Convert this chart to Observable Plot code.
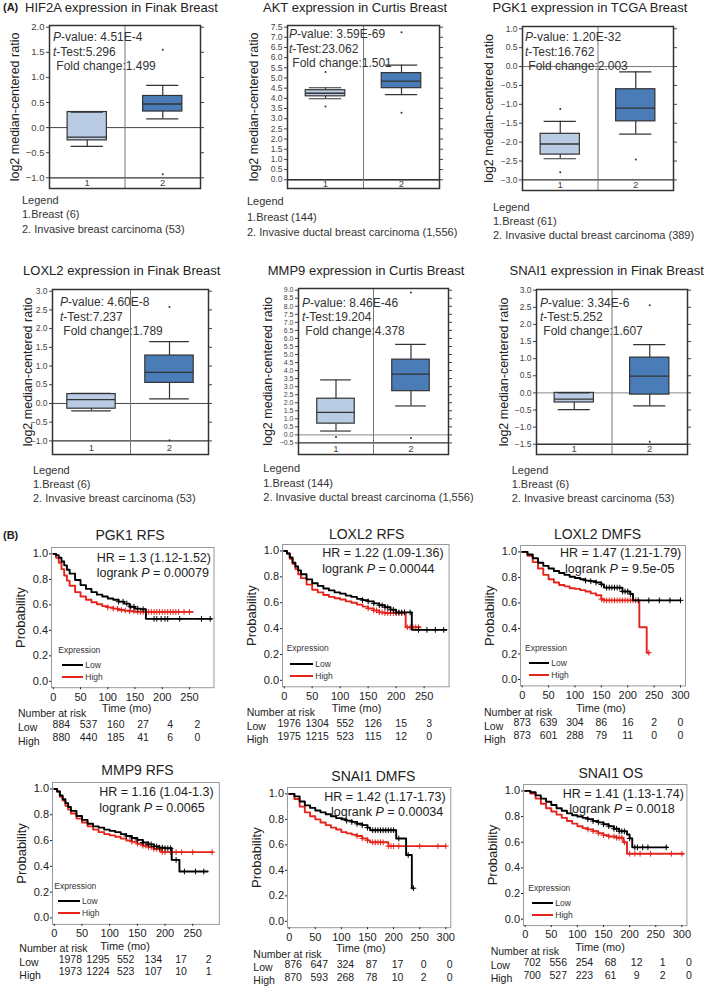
<!DOCTYPE html>
<html><head><meta charset="utf-8">
<script src="https://cdn.jsdelivr.net/npm/d3@7"></script>
<script src="https://cdn.jsdelivr.net/npm/@observablehq/plot@0.6"></script>
<style>
body{margin:0;background:#fff;}
#root{position:relative;width:709px;height:988px;overflow:hidden;font-family:"Liberation Sans",Arial,sans-serif;color:#222;}
.t{position:absolute;white-space:nowrap;line-height:1;}
.p{position:absolute;}
svg{overflow:visible}
</style></head><body><div id="root"></div>
<script>
// ---------------- DATA: Oncomine box plots ----------------
const boxGenes = ["HIF2A","AKT","PGK1","LOXL2","MMP9","SNAI1"];
const boxStudies = ["Finak Breast","Curtis Breast","TCGA Breast","Finak Breast","Curtis Breast","Finak Breast"];
// [lower whisker, q1, median, q3, upper whisker]
const normalStats = [
  [-0.375,-0.255,-0.19,0.31,0.31],
  [3.98,4.1,4.25,4.4,4.52],
  [-2.44,-2.33,-2.05,-1.78,-1.45],
  [-0.2,-0.14,0.1,0.25,0.27],
  [0.24,0.7,1.4,2.25,3.42],
  [-0.49,-0.28,-0.18,0.0,0.0]
];
const tumorStats = [
  [0.175,0.32,0.47,0.63,0.84],
  [4.18,4.5,4.85,5.24,5.63],
  [-1.79,-1.45,-1.1,-0.6,-0.14],
  [0.12,0.55,0.83,1.28,1.65],
  [1.8,2.72,3.78,4.68,5.63],
  [-0.38,-0.05,0.49,1.03,1.41]
];
const normalOutliers = [[],[5.29,3.6],[-1.12,-2.8],[],[-0.13],[]];
const tumorOutliers = [[1.55,-0.93],[7.25,3.29],[-2.46],[2.58,-0.98],[8.85,-0.19],[2.56,-1.43]];
const pValues = ["4.51E-4","3.59E-69","1.20E-32","4.60E-8","8.46E-46","3.34E-6"];
const tTests = ["5.296","23.062","16.762","7.237","19.204","5.252"];
const foldChanges = ["1.499","1.501","2.003","1.789","4.378","1.607"];
const normalLabels = ["1.Breast (6)","1.Breast (144)","1.Breast (61)","1.Breast (6)","1.Breast (144)","1.Breast (6)"];
const tumorLabels = ["2. Invasive breast carcinoma (53)","2. Invasive ductal breast carcinoma (1,556)","2. Invasive ductal breast carcinoma (389)","2. Invasive breast carcinoma (53)","2. Invasive ductal breast carcinoma (1,556)","2. Invasive breast carcinoma (53)"];
const boxTickMin = [-1,0,-3,-1,-0.5,-1.5];
const boxTickMax = [2,7.5,1,3,9,3];
const boxCategories = ["1","2"];

// ---------------- DATA: Kaplan-Meier ----------------
const kmTitles = ["PGK1 RFS","LOXL2 RFS","LOXL2 DMFS","MMP9 RFS","SNAI1 DMFS","SNAI1 OS"];
const kmHR = ["HR = 1.3 (1.12-1.52)","HR = 1.22 (1.09-1.36)","HR = 1.47 (1.21-1.79)","HR = 1.16 (1.04-1.3)","HR = 1.42 (1.17-1.73)","HR = 1.41 (1.13-1.74)"];
const kmP = ["0.00079","0.00044","9.5e-05","0.0065","0.00034","0.0018"];
const kmRiskLow = [[884,537,160,27,4,2],[1976,1304,552,126,15,3],[873,639,304,86,16,2,0],[1978,1295,552,134,17,2],[876,647,324,87,17,0,0],[702,556,254,68,12,1,0]];
const kmRiskHigh = [[880,440,185,41,6,0],[1975,1215,523,115,12,0],[873,601,288,79,11,0,0],[1973,1224,523,107,10,1],[870,593,268,78,10,2,0],[700,527,223,61,9,2,0]];
const kmRiskStep = 50;

const pgk1RfsLow = [[0,1],[5,0.99],[10,0.97],[15,0.94],[20,0.91],[25,0.875],[30,0.845],[40,0.795],[50,0.755],[60,0.725],[70,0.70],[80,0.68],[90,0.665],[100,0.65],[110,0.64],[120,0.625],[130,0.61],[140,0.585],[150,0.57],[160,0.565],[170,0.49],[290,0.49]];
const pgk1RfsHigh = [[0,1],[5,0.97],[10,0.93],[15,0.88],[20,0.83],[25,0.79],[30,0.75],[40,0.70],[50,0.665],[60,0.64],[70,0.62],[80,0.605],[90,0.59],[100,0.58],[110,0.57],[120,0.56],[130,0.555],[140,0.55],[150,0.545],[256,0.545]];
const loxl2RfsLow = [[0,1],[5,0.98],[10,0.95],[15,0.91],[20,0.88],[25,0.85],[30,0.82],[40,0.78],[50,0.75],[60,0.73],[70,0.71],[80,0.695],[90,0.68],[100,0.67],[110,0.655],[120,0.645],[130,0.63],[140,0.62],[150,0.61],[160,0.595],[170,0.58],[180,0.565],[190,0.545],[200,0.525],[228,0.39],[290,0.39]];
const loxl2RfsHigh = [[0,1],[5,0.98],[10,0.94],[15,0.9],[20,0.86],[25,0.82],[30,0.79],[40,0.74],[50,0.70],[60,0.68],[70,0.66],[80,0.645],[90,0.635],[100,0.625],[110,0.61],[120,0.60],[130,0.585],[140,0.57],[150,0.555],[160,0.54],[170,0.525],[180,0.52],[217,0.41],[243,0.41]];
const loxl2DmfsLow = [[0,1],[10,0.98],[20,0.95],[30,0.915],[40,0.89],[50,0.87],[60,0.85],[70,0.835],[80,0.82],[90,0.805],[100,0.795],[110,0.785],[120,0.775],[130,0.77],[140,0.76],[150,0.745],[155,0.72],[190,0.69],[205,0.67],[210,0.62],[300,0.62]];
const loxl2DmfsHigh = [[0,1],[10,0.97],[20,0.92],[30,0.87],[40,0.82],[50,0.785],[60,0.76],[70,0.74],[80,0.73],[90,0.715],[100,0.71],[110,0.70],[120,0.69],[130,0.675],[140,0.66],[150,0.63],[155,0.62],[222,0.41],[236,0.21],[240,0.21]];
const mmp9RfsLow = [[0,1],[5,0.98],[10,0.95],[15,0.92],[20,0.89],[25,0.86],[30,0.83],[40,0.79],[50,0.76],[60,0.73],[70,0.71],[80,0.70],[90,0.685],[100,0.675],[110,0.665],[120,0.65],[130,0.635],[140,0.62],[150,0.605],[160,0.585],[170,0.57],[180,0.555],[190,0.545],[200,0.54],[212,0.45],[226,0.36],[277,0.36]];
const mmp9RfsHigh = [[0,1],[5,0.98],[10,0.94],[15,0.91],[20,0.87],[25,0.84],[30,0.81],[40,0.77],[50,0.74],[60,0.71],[70,0.685],[80,0.665],[90,0.65],[100,0.64],[110,0.63],[120,0.615],[130,0.60],[140,0.59],[150,0.575],[160,0.56],[170,0.55],[180,0.535],[193,0.51],[286,0.51]];
const snai1DmfsLow = [[0,1],[10,0.98],[20,0.94],[30,0.91],[40,0.89],[50,0.87],[60,0.855],[70,0.84],[80,0.825],[90,0.81],[100,0.80],[110,0.79],[120,0.78],[130,0.765],[140,0.755],[150,0.735],[155,0.715],[205,0.65],[224,0.52],[235,0.26],[238,0.26]];
const snai1DmfsHigh = [[0,1],[10,0.96],[20,0.90],[30,0.855],[40,0.825],[50,0.80],[60,0.775],[70,0.755],[80,0.735],[90,0.72],[100,0.70],[110,0.69],[120,0.68],[130,0.67],[140,0.65],[150,0.635],[155,0.62],[190,0.59],[300,0.59]];
const snai1OsLow = [[0,1],[10,0.99],[20,0.965],[30,0.94],[40,0.915],[50,0.89],[60,0.865],[70,0.845],[80,0.825],[90,0.81],[100,0.80],[110,0.79],[120,0.78],[130,0.765],[140,0.755],[150,0.74],[160,0.725],[170,0.705],[180,0.685],[195,0.66],[200,0.63],[205,0.56],[272,0.56]];
const snai1OsHigh = [[0,1],[10,0.98],[20,0.94],[30,0.90],[40,0.865],[50,0.84],[60,0.815],[70,0.79],[80,0.765],[90,0.745],[100,0.725],[110,0.71],[120,0.70],[130,0.685],[140,0.67],[150,0.655],[160,0.645],[175,0.635],[188,0.60],[195,0.51],[303,0.51]];
const kmLowSeries = [pgk1RfsLow, loxl2RfsLow, loxl2DmfsLow, mmp9RfsLow, snai1DmfsLow, snai1OsLow];
const kmHighSeries = [pgk1RfsHigh, loxl2RfsHigh, loxl2DmfsHigh, mmp9RfsHigh, snai1DmfsHigh, snai1OsHigh];
const kmLowCensor = [
  [120,128,135,142,148,155,165,185,190,198,205,210,232,272,288],
  [140,150,160,170,175,180,185,190,195,200,205,210,215,225,240,255,270,285],
  [120,130,140,150,160,165,170,175,180,185,190,195,200,205,220,240,260,280,300],
  [130,140,150,160,170,175,180,185,190,195,200,205,210,220,235,255,270],
  [110,120,130,140,150,160,165,170,175,180,185,190,195,200,210,228,238],
  [120,130,140,150,160,170,175,180,185,190,200,210,215,225,235,270]
];
const kmHighCensor = [
  [100,110,118,125,132,140,148,155,160,165,170,175,180,185,190,195,200,205,210,215,220,225,230,240,250],
  [150,160,165,170,175,180,185,190,195,200,205,210,220,225,230,235,240],
  [150,155,160,165,170,175,180,185,190,195,200,205,210,215,240],
  [140,150,160,165,170,175,180,185,190,195,200,210,220,230,250,285],
  [130,140,150,160,165,170,175,180,190,195,200,210,250,285,300],
  [120,130,140,150,160,170,175,180,185,190,200,210,220,240,280,300]
];
const kmHasLegend = [true,true,true,true,false,true];

// ---------------- LAYOUT (pixels) ----------------
const FONT = "'Liberation Sans', Arial, sans-serif";
const lightBlue = "#b9cce4", darkBlue = "#4a7cb8", kmRed = "#e5241c";
const boxLayout = [
  {L:49,R:200,T:25,B:188,ylo:-1.213,yhi:2.034,hw:0.26,tick:9.5,labDx:-35,zero:"#444",tx:53,ty:[37,52,66],title:{x:124,y:7},leg:{x:22,y:[200,214,229]}},
  {L:287,R:439,T:25,B:188,ylo:-0.43,yhi:7.58,hw:0.26,tick:8.5,labDx:-34,zero:"#333",tx:289,ty:[34,49,63],title:{x:355,y:7},leg:{x:247,y:[201,216.5,231.5]}},
  {L:522,R:673,T:26,B:190,ylo:-3.28,yhi:1.06,hw:0.26,tick:8.5,labDx:-34,zero:"#777",tx:525,ty:[37,52,66],title:{x:590,y:7},leg:{x:493,y:[206.5,220.5,235]}},
  {L:52,R:208,T:289.3,B:454.3,ylo:-1.364,yhi:3.045,hw:0.31,tick:8.5,labDx:-25,zero:"#444",tx:60,ty:[302,316.5,331],title:{x:121.7,y:270},leg:{x:33,y:[470,484.3,498.3]}},
  {L:298,R:448,T:288.3,B:454.3,ylo:-1.22,yhi:9.106,hw:0.25,tick:7,labDx:-31,zero:"#888",tx:302,ty:[303,317,331],title:{x:366,y:270},leg:{x:263.3,y:[468.3,483.3,496.7]}},
  {L:536,R:687,T:289.3,B:454.3,ylo:-1.8,yhi:3.02,hw:0.26,tick:8.5,labDx:-33,zero:"#888",tx:540,ty:[303,317,331],title:{x:606.7,y:270},leg:{x:511.7,y:[470,484.3,498.3]}}
];
const kmLayout = [
  {L:50.5,R:213,T:546.9,B:687.1,xa:-3.3,xb:295,rdx:8,dyL:40.2,dyH:53.6,title:{x:130,y:535},hr:[96.7,558.3],lr:[96.7,573.3],time:{x:126.7,y:708.3},risk:{x:18,y:[712.5,727.3,740.7]},leg:{x:58.3,y:650,lx:[61.7,83.3],ly:[665,676.7]}},
  {L:281.7,R:448.3,T:543.5,B:685.8,xa:-3,xb:294.6,rdx:5,dyL:39.9,dyH:53.2,title:{x:366.7,y:534},hr:[322.3,553.3],lr:[322.3,569.3],time:{x:356.7,y:708.3},risk:{x:246.7,y:[711.5,725.7,739]},leg:{x:286.7,y:648.3,lx:[290,313.3],ly:[664,676]}},
  {L:520,R:685,T:545.3,B:685.7,xa:-3.2,xb:309.5,rdx:0,dyL:39.8,dyH:53,title:{x:597.5,y:534},hr:[560,553.3],lr:[565,569.3],time:{x:600.8,y:708.3},risk:{x:484,y:[711.5,725.5,738.7]},leg:{x:525,y:647.7,lx:[529.3,549.3],ly:[663.3,675]}},
  {L:51.5,R:218.3,T:781.9,B:923.8,xa:-3.3,xb:298,rdx:16,dyL:38.4,dyH:51,title:{x:137.5,y:770},hr:[99.3,791.7],lr:[99.3,807.7],time:{x:125,y:945.7},risk:{x:19.3,y:[947.5,962.2,974.8]},leg:{x:54.3,y:885.7,lx:[58.3,80],ly:[901,913.3]}},
  {L:286.7,R:450,T:786.9,B:927.1,xa:-3.2,xb:309.6,rdx:4,dyL:40.2,dyH:53.2,title:{x:373.3,y:775.7},hr:[324.3,796.7],lr:[331,811.7],time:{x:360.8,y:948.3},risk:{x:253.3,y:[953.5,967.3,980.3]},leg:null},
  {L:523.3,R:686.7,T:783.6,B:924.7,xa:-3.2,xb:309.6,rdx:7,dyL:40.6,dyH:53.3,title:{x:610.8,y:773.3},hr:[562.7,794],lr:[569.3,809.3],time:{x:600,y:946.7},risk:{x:490.7,y:[951,965.3,978]},leg:{x:528.3,y:887.7,lx:[531.7,553.3],ly:[902.7,915]}}
];

// ---------------- helpers ----------------
const root = document.getElementById("root");
function addText(html, x, y, o = {}) {
  const d = document.createElement("div");
  d.className = "t";
  d.innerHTML = html;
  d.style.left = x + "px";
  d.style.top = y + "px";
  d.style.fontSize = (o.size || 12) + "px";
  if (o.color) d.style.color = o.color;
  if (o.bold) d.style.fontWeight = "bold";
  d.style.transform = o.center ? "translate(-50%,-50%)" : "translateY(-50%)";
  root.appendChild(d);
}
function place(svg, left, top) {
  const w = document.createElement("div");
  w.className = "p";
  w.style.left = left + "px";
  w.style.top = top + "px";
  w.appendChild(svg);
  root.appendChild(w);
}
const fmt1 = d3.format(".1f");
const plotStyle = {fontFamily: FONT, background: "none", overflow: "visible", color: "#222"};

// ---------------- box plots ----------------
boxGenes.forEach((gene, i) => {
  const lay = boxLayout[i];
  const ticks = d3.range(boxTickMin[i], boxTickMax[i] + 0.01, 0.5);
  const base = boxTickMin[i];
  const stats = [{cat: 1, s: normalStats[i]}, {cat: 2, s: tumorStats[i]}];
  const outl = [...normalOutliers[i].map(v => ({cat: 1, v})), ...tumorOutliers[i].map(v => ({cat: 2, v}))];
  const hw = lay.hw, cw = lay.hw * 0.82;
  const divider = d3.mean(stats, d => d.cat);
  const mL = 50, mR = 10, mT = 4, mB = 4;
  const plot = Plot.plot({
    width: lay.R - lay.L + mL + mR, height: lay.B - lay.T + mT + mB,
    marginLeft: mL, marginRight: mR, marginTop: mT, marginBottom: mB,
    style: plotStyle,
    x: {domain: [0.5, 2.5], axis: null},
    y: {domain: [lay.ylo, lay.yhi], axis: null},
    marks: [
      Plot.ruleY([0], {stroke: lay.zero, strokeWidth: 1}),
      Plot.ruleY([base], {stroke: "#333", strokeWidth: 1.3}),
      Plot.ruleX([divider], {stroke: "#777", strokeWidth: 1}),
      Plot.ruleX(stats, {x: "cat", y1: d => d.s[0], y2: d => d.s[1], stroke: "#333", strokeWidth: 1.2}),
      Plot.ruleX(stats, {x: "cat", y1: d => d.s[3], y2: d => d.s[4], stroke: "#333", strokeWidth: 1.2}),
      Plot.rect(stats.filter(d => d.cat === 1), {x1: d => d.cat - hw, x2: d => d.cat + hw, y1: d => d.s[1], y2: d => d.s[3], fill: lightBlue, stroke: "#333", strokeWidth: 1.2}),
      Plot.rect(stats.filter(d => d.cat === 2), {x1: d => d.cat - hw, x2: d => d.cat + hw, y1: d => d.s[1], y2: d => d.s[3], fill: darkBlue, stroke: "#333", strokeWidth: 1.2}),
      Plot.ruleY(stats, {y: d => d.s[2], x1: d => d.cat - hw, x2: d => d.cat + hw, stroke: "#333", strokeWidth: 1.3}),
      Plot.ruleY(stats, {y: d => d.s[0], x1: d => d.cat - cw, x2: d => d.cat + cw, stroke: "#333", strokeWidth: 1.2}),
      Plot.ruleY(stats, {y: d => d.s[4], x1: d => d.cat - cw, x2: d => d.cat + cw, stroke: "#333", strokeWidth: 1.2}),
      Plot.dot(outl, {x: "cat", y: "v", r: 1, fill: "#333", stroke: null}),
      Plot.text(boxCategories, {x: d => +d, y: (base + lay.ylo) / 2, text: d => d, fontSize: 9.5, fill: "#444"}),
      Plot.axisY({ticks, tickFormat: fmt1, tickSize: 3, tickPadding: 2, fontSize: lay.tick, color: "#444", label: null}),
      Plot.axisY({anchor: "right", ticks, tickFormat: () => "", tickSize: 3, color: "#444", label: null}),
      Plot.text(["log2 median-centered ratio"], {frameAnchor: "left", textAnchor: "middle", rotate: -90, dx: lay.labDx, fontSize: 12.5, fill: "#222"}),
      Plot.frame({stroke: "#333", strokeWidth: 1.5})
    ]
  });
  place(plot, lay.L - mL, lay.T - mT);
  const title = `${gene} expression in ${boxStudies[i]}`;
  if (i === 0) {
    addText("(A)", 3, lay.title.y, {size: 11, bold: true});
    addText(title, 25, lay.title.y, {size: 13});
  } else {
    addText(title, lay.title.x, lay.title.y, {size: 13, center: true});
  }
  addText(`<i>P</i>-value: ${pValues[i]}`, lay.tx, lay.ty[0], {size: 12, color: "#333"});
  addText(`<i>t</i>-Test:${tTests[i]}`, lay.tx, lay.ty[1], {size: 12, color: "#333"});
  addText(`&nbsp;Fold change:${foldChanges[i]}`, lay.tx, lay.ty[2], {size: 12, color: "#333"});
  addText("Legend", lay.leg.x, lay.leg.y[0], {size: 11, color: "#333"});
  addText(normalLabels[i], lay.leg.x, lay.leg.y[1], {size: 11, color: "#333"});
  addText(tumorLabels[i], lay.leg.x, lay.leg.y[2], {size: 11, color: "#333"});
});

// ---------------- Kaplan-Meier ----------------
function stepValue(series, t) {
  let v = series[0][1];
  for (const [tt, s] of series) { if (tt <= t) v = s; else break; }
  return v;
}
addText("(B)", 3, 535, {size: 11, bold: true});
kmTitles.forEach((title, i) => {
  const lay = kmLayout[i];
  const low = kmLowSeries[i], high = kmHighSeries[i];
  const times = kmRiskLow[i].map((_, j) => j * kmRiskStep);
  const cLow = kmLowCensor[i].map(t => [t, stepValue(low, t)]);
  const cHigh = kmHighCensor[i].map(t => [t, stepValue(high, t)]);
  const mL = 45, mR = 10, mT = 4, mB = 70;
  const plot = Plot.plot({
    width: lay.R - lay.L + mL + mR, height: lay.B - lay.T + mT + mB,
    marginLeft: mL, marginRight: mR, marginTop: mT, marginBottom: mB,
    style: plotStyle,
    x: {domain: [lay.xa, lay.xb], axis: null},
    y: {domain: [-0.05, 1.05], axis: null},
    marks: [
      Plot.frame({stroke: "#999", strokeWidth: 1}),
      Plot.axisY({ticks: [0, 0.2, 0.4, 0.6, 0.8, 1.0], tickFormat: fmt1, tickSize: 2, tickPadding: 1.5, fontSize: 11, color: "#222", label: null}),
      Plot.axisX({ticks: times, tickFormat: d => d, tickSize: 2, tickPadding: 3, fontSize: 11, color: "#222", label: null}),
      Plot.line(high, {x: d => d[0], y: d => d[1], curve: "step-after", stroke: kmRed, strokeWidth: 1.9}),
      Plot.dot(cHigh, {x: d => d[0], y: d => d[1], symbol: "plus", r: 2, stroke: kmRed, strokeWidth: 1}),
      Plot.line(low, {x: d => d[0], y: d => d[1], curve: "step-after", stroke: "#000", strokeWidth: 1.9}),
      Plot.dot(cLow, {x: d => d[0], y: d => d[1], symbol: "plus", r: 2, stroke: "#000", strokeWidth: 1}),
      Plot.text(times, {x: d => d, text: (d, j) => String(kmRiskLow[i][j]), frameAnchor: "bottom", dy: lay.dyL, dx: lay.rdx, fontSize: 10.5, fill: "#222"}),
      Plot.text(times, {x: d => d, text: (d, j) => String(kmRiskHigh[i][j]), frameAnchor: "bottom", dy: lay.dyH, dx: lay.rdx, fontSize: 10.5, fill: "#222"}),
      Plot.text(["Probability"], {frameAnchor: "left", textAnchor: "middle", rotate: -90, dx: -31, fontSize: 13, fill: "#222"})
    ]
  });
  place(plot, lay.L - mL, lay.T - mT);
  addText(title, lay.title.x, lay.title.y, {size: 14, center: true});
  addText(kmHR[i], lay.hr[0], lay.hr[1], {size: 12.5});
  addText(`logrank <i>P</i> = ${kmP[i]}`, lay.lr[0], lay.lr[1], {size: 12.5});
  addText("Time (mo)", lay.time.x, lay.time.y, {size: 11, center: true});
  addText("Number at risk", lay.risk.x, lay.risk.y[0], {size: 10.5});
  addText("Low", lay.risk.x, lay.risk.y[1], {size: 10.5});
  addText("High", lay.risk.x, lay.risk.y[2], {size: 10.5});
  if (kmHasLegend[i] && lay.leg) {
    const g = lay.leg;
    addText("Expression", g.x, g.y, {size: 8.5, color: "#333"});
    [["#000", "Low"], [kmRed, "High"]].forEach(([c, lab], k) => {
      const ln = document.createElement("div");
      ln.style.cssText = `position:absolute;left:${g.lx[0]}px;top:${g.ly[k] - 1}px;width:${g.lx[1] - g.lx[0]}px;height:2px;background:${c};`;
      root.appendChild(ln);
      addText(lab, g.lx[1] + 2, g.ly[k], {size: 8.5, color: "#333"});
    });
  }
});
</script></body></html>
